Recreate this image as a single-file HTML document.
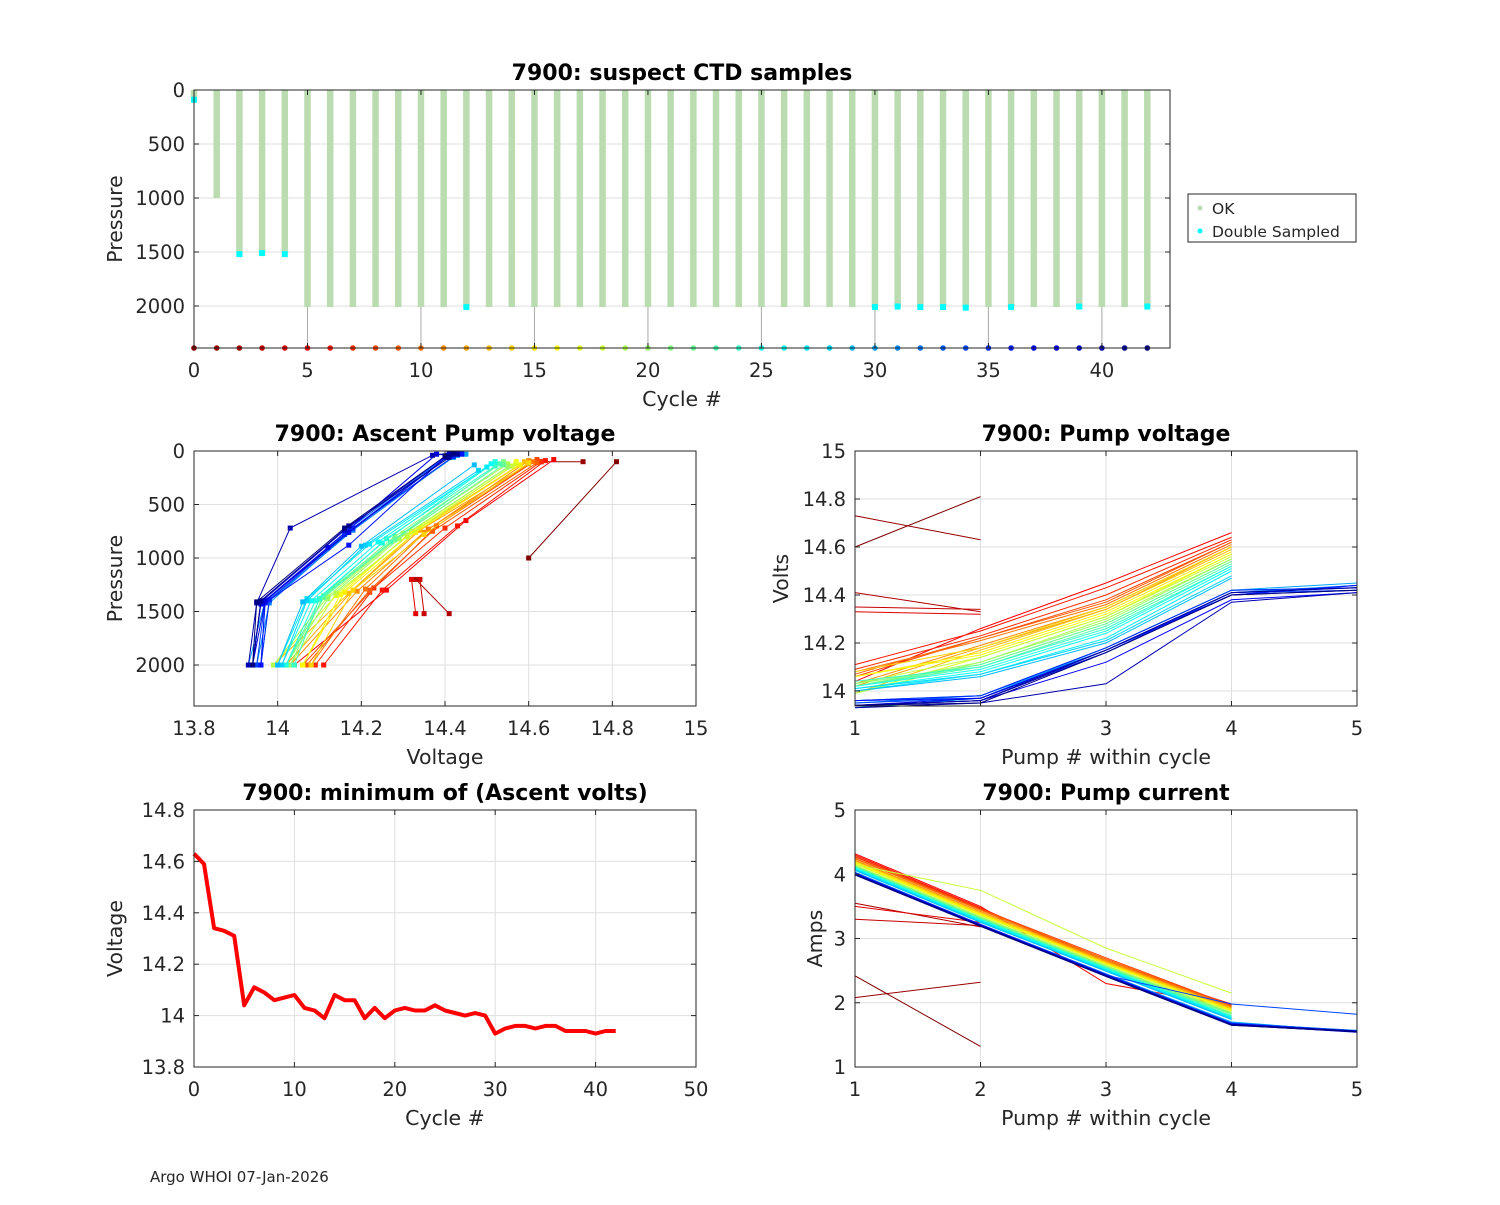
<!DOCTYPE html>
<html><head><meta charset="utf-8"><style>
body{margin:0;background:#fff;}
svg text{font-family:"DejaVu Sans","Liberation Sans",sans-serif;fill:#262626;}
</style></head><body>
<svg id="fig" width="1500" height="1200" xmlns="http://www.w3.org/2000/svg">
<rect width="1500" height="1200" fill="#fff"/>
<text x="150" y="1182" font-size="15">Argo WHOI 07-Jan-2026</text>
</svg>
<script>
const cycles=[0,1,2,3,4,5,6,7,8,9,10,11,12,13,14,15,16,17,18,19,20,21,22,23,24,25,26,27,28,29,30,31,32,33,34,35,36,37,38,39,40,41,42];
const maxPres=[90,1000,1520,1520,1520,2010,2010,2010,2010,2010,2010,2010,2010,2010,2010,2010,2010,2010,2010,2010,2010,2010,2010,2010,2010,2010,2010,2010,2010,2010,2010,2010,2010,2010,2010,2010,2010,2010,2010,2010,2010,2010,2010];
const doubleCycles=[0,2,3,4,12,30,31,32,33,34,36,39,42];
const doublePres=[90,1520,1510,1520,2010,2010,2005,2010,2010,2015,2010,2005,2005];
const minV=[14.63,14.59,14.34,14.33,14.31,14.04,14.11,14.09,14.06,14.07,14.08,14.03,14.02,13.99,14.08,14.06,14.06,13.99,14.03,13.99,14.02,14.03,14.02,14.02,14.04,14.02,14.01,14.00,14.01,14.00,13.93,13.95,13.96,13.96,13.95,13.96,13.96,13.94,13.94,13.94,13.93,13.94,13.94];
const N=null;
const v1=[14.60,14.73,14.41,14.35,14.33,14.04,14.11,14.09,14.06,14.07,14.08,14.03,14.02,13.99,14.08,14.06,14.06,13.99,14.03,13.99,14.02,14.03,14.02,14.02,14.04,14.02,14.01,14.00,14.01,14.00,13.93,13.95,13.96,13.96,13.95,13.96,13.96,13.94,13.94,13.94,13.93,13.94,13.94];
const v2=[14.81,14.63,14.33,14.34,14.32,14.26,14.25,14.23,14.22,14.22,14.21,14.19,14.18,14.17,14.18,14.16,14.15,14.14,14.14,14.12,14.12,14.11,14.11,14.10,14.10,14.09,14.08,14.07,14.07,14.06,13.97,13.98,13.98,13.97,13.97,13.98,13.97,13.96,13.97,13.96,13.95,13.96,13.95];
const v3=[N,N,N,N,N,14.45,14.43,14.40,14.38,14.37,14.36,14.35,14.34,14.34,14.35,14.33,14.32,14.31,14.31,14.30,14.29,14.28,14.28,14.27,14.26,14.25,14.24,14.22,14.21,14.20,14.18,14.17,14.18,14.17,14.16,14.18,14.17,14.12,14.17,14.16,14.03,14.17,14.16];
const v4=[N,N,N,N,N,14.66,14.64,14.63,14.62,14.62,14.61,14.60,14.60,14.59,14.60,14.58,14.57,14.57,14.56,14.55,14.55,14.54,14.54,14.53,14.52,14.52,14.51,14.50,14.48,14.47,14.42,14.41,14.42,14.40,14.41,14.42,14.40,14.38,14.41,14.40,14.37,14.41,14.40];
const v5=[N,N,N,N,N,N,N,N,N,N,N,N,N,N,N,N,N,N,N,N,N,N,N,N,N,N,N,N,N,N,14.45,14.44,14.43,14.44,14.42,14.43,14.44,14.41,14.43,14.42,14.41,14.43,14.42];
const c1=[2.42,2.08,3.55,3.30,3.50,4.32,4.30,4.28,4.27,4.25,4.24,4.22,4.21,4.20,4.20,4.18,4.17,4.16,4.15,4.14,4.13,4.12,4.12,4.11,4.10,4.10,4.09,4.08,4.07,4.06,4.03,4.02,4.03,4.02,4.01,4.02,4.01,4.00,4.01,4.00,3.99,4.00,3.99];
const c2=[1.32,2.32,3.18,3.20,3.25,3.50,3.48,3.47,3.46,3.45,3.44,3.42,3.40,3.39,3.40,3.38,3.37,3.36,3.75,3.34,3.33,3.32,3.31,3.30,3.30,3.29,3.28,3.27,3.26,3.25,3.22,3.21,3.22,3.21,3.20,3.22,3.21,3.20,3.21,3.20,3.19,3.20,3.19];
const c3=[N,N,N,N,N,2.30,2.60,2.65,2.70,2.68,2.66,2.65,2.64,2.63,2.62,2.61,2.60,2.60,2.85,2.58,2.57,2.56,2.55,2.55,2.54,2.53,2.52,2.51,2.50,2.49,2.45,2.44,2.45,2.44,2.43,2.44,2.43,2.42,2.43,2.42,2.41,2.42,2.41];
const c4=[N,N,N,N,N,1.95,1.98,1.97,1.96,1.95,1.94,1.93,1.92,1.91,1.90,1.89,1.88,1.87,2.15,1.85,1.84,1.83,1.82,1.80,1.79,1.78,1.77,1.76,1.75,1.74,1.70,1.69,1.68,1.67,1.98,1.68,1.67,1.66,1.67,1.66,1.65,1.66,1.65];
const c5=[N,N,N,N,N,N,N,N,N,N,N,N,N,N,N,N,N,N,N,N,N,N,N,N,N,N,N,N,N,N,1.55,1.56,1.57,1.55,1.82,1.56,1.55,1.56,1.55,1.54,1.55,1.56,1.55];
const p1=[1000,100,1520,1520,1520,2000,2000,2000,2000,2000,2000,2000,2000,2000,2000,2000,2000,2000,2000,2000,2000,2000,2000,2000,2000,2000,2000,2000,2000,2000,2000,2000,2000,2000,2000,2000,2000,2000,2000,2000,2000,2000,2000];
const p2=[100,100,1200,1200,1200,1300,1300,1280,1320,1300,1290,1310,1300,1330,1300,1320,1340,1350,1330,1360,1380,1350,1370,1390,1380,1400,1400,1380,1400,1410,1400,1420,1400,1410,1400,1390,1420,1430,1400,1410,1420,1400,1410];
const p3=[N,N,N,N,N,650,700,720,700,750,730,760,740,720,780,760,750,790,800,770,820,800,830,850,820,860,850,870,880,890,720,760,740,730,780,720,880,900,760,740,720,700,720];
const p4=[N,N,N,N,N,80,90,100,80,110,100,90,120,100,110,130,100,120,140,120,150,100,130,120,140,100,120,150,180,130,60,40,50,60,40,50,60,30,40,50,40,60,50];
const p5=[N,N,N,N,N,N,N,N,N,N,N,N,N,N,N,N,N,N,N,N,N,N,N,N,N,N,N,N,N,N,30,20,40,20,30,20,30,40,20,30,20,30,20];

const NS="http://www.w3.org/2000/svg";
const fig=document.getElementById('fig');
function el(tag,attrs,parent){const e=document.createElementNS(NS,tag);for(const k in attrs)e.setAttribute(k,attrs[k]);(parent||fig).appendChild(e);return e;}
function jet(t){function c(x){return Math.max(0,Math.min(1,x));}
 const r=c(1.5-Math.abs(4*t-3)),g=c(1.5-Math.abs(4*t-2)),b=c(1.5-Math.abs(4*t-1));
 return `rgb(${Math.round(r*255)},${Math.round(g*255)},${Math.round(b*255)})`;}
function col(i){return jet(1-i/42);}
function axes(name,x0,y0,w,h,xmin,xmax,ymin,ymax,rev,xt,yt,xl,yl,title,ylx){
 const g=el('g',{});
 const X=v=>x0+(v-xmin)/(xmax-xmin)*w;
 const Y=rev?(v=>y0+(v-ymin)/(ymax-ymin)*h):(v=>y0+h-(v-ymin)/(ymax-ymin)*h);
 for(const t of xt){el('line',{x1:X(t),x2:X(t),y1:y0,y2:y0+h,stroke:'#dfdfdf','stroke-width':1},g);}
 for(const t of yt){el('line',{x1:x0,x2:x0+w,y1:Y(t),y2:Y(t),stroke:'#dfdfdf','stroke-width':1},g);}
 const plot=el('g',{},g);
 const front=el('g',{},g);
 el('rect',{x:x0,y:y0,width:w,height:h,fill:'none',stroke:'#262626','stroke-width':1},front);
 for(const t of xt){const x=X(t);el('line',{x1:x,x2:x,y1:y0+h,y2:y0+h-5,stroke:'#262626'},front);el('line',{x1:x,x2:x,y1:y0,y2:y0+5,stroke:'#262626'},front);
  const tx=el('text',{x:x,y:y0+h+29,'font-size':19.5,'text-anchor':'middle'},front);tx.textContent=t;}
 for(const t of yt){const y=Y(t);el('line',{x1:x0,x2:x0+5,y1:y,y2:y,stroke:'#262626'},front);el('line',{x1:x0+w,x2:x0+w-5,y1:y,y2:y,stroke:'#262626'},front);
  const tx=el('text',{x:x0-9,y:y+7,'font-size':19.5,'text-anchor':'end'},front);tx.textContent=t;}
 const xlab=el('text',{x:x0+w/2,y:y0+h+58,'font-size':20.5,'text-anchor':'middle'},front);xlab.textContent=xl;
 
 const ylab=el('text',{x:0,y:0,'font-size':20.5,'text-anchor':'middle',transform:`translate(${ylx},${y0+h/2}) rotate(-90)`},front);ylab.textContent=yl;
 
 const ti=el('text',{x:x0+w/2,y:y0-10,'font-size':22,'font-weight':'bold','text-anchor':'middle',style:'fill:#000'},front);ti.textContent=title;
 
 return {X,Y,plot};
}
function path(pts,attrs,parent){const d=pts.map((p,i)=>(i?'L':'M')+p[0].toFixed(1)+' '+p[1].toFixed(1)).join(' ');return el('path',Object.assign({d:d,fill:'none'},attrs),parent);}

// Top plot
const A=axes('ctd-samples-plot',194,90,976,258,0,43,0,2389,true,[0,5,10,15,20,25,30,35,40],[0,500,1000,1500,2000],'Cycle #','Pressure','7900: suspect CTD samples',122);
for(const t of [5,10,15,20,25,30,35,40]){el('line',{x1:A.X(t),x2:A.X(t),y1:A.Y(2010),y2:348,stroke:'#aaa','stroke-width':1},A.plot);}
cycles.forEach(i=>{const b=el('line',{x1:A.X(i),x2:A.X(i),y1:A.Y(0),y2:A.Y(maxPres[i]),stroke:'#badcb0','stroke-width':6.5},A.plot);
 
 const m=el('circle',{cx:A.X(i),cy:A.Y(2389),r:2.8,fill:col(i)},A.plot);
 });
doubleCycles.forEach((c,k)=>{const m=el('rect',{x:A.X(c)-3,y:A.Y(doublePres[k])-3,width:6,height:6,fill:'#00ffff'},A.plot);
 });
// legend
const lg=el('g',{});
el('rect',{x:1188,y:194,width:168,height:48,fill:'#fff',stroke:'#262626'},lg);
el('circle',{cx:1200,cy:208,r:2.5,fill:'#badcb0'},lg);
el('circle',{cx:1200,cy:231,r:2.5,fill:'#00ffff'},lg);
let t1=el('text',{x:1212,y:214,'font-size':15.5},lg);t1.textContent='OK';
let t2=el('text',{x:1212,y:237,'font-size':15.5},lg);t2.textContent='Double Sampled';

// Ascent pump voltage
const B=axes('ascent-voltage-plot',194,451,502,255,13.8,15,0,2383,true,[13.8,14,14.2,14.4,14.6,14.8,15],[0,500,1000,1500,2000],'Voltage','Pressure','7900: Ascent Pump voltage',122);
const VS=[v1,v2,v3,v4,v5],CS=[c1,c2,c3,c4,c5],PS=[p1,p2,p3,p4,p5];
cycles.forEach(i=>{const pts=[];for(let k=0;k<5;k++){if(VS[k][i]!=null&&PS[k][i]!=null)pts.push([B.X(VS[k][i]),B.Y(PS[k][i])]);}
 const l=path(pts,{stroke:col(i),'stroke-width':1},B.plot);
 pts.forEach(p=>{const m=el('rect',{x:p[0]-2.5,y:p[1]-2.5,width:5,height:5,fill:col(i)},B.plot);});});

// Pump voltage
const C=axes('pump-voltage-plot',855,451,502,255,1,5,13.9375,15,false,[1,2,3,4,5],[14,14.2,14.4,14.6,14.8,15],'Pump # within cycle','Volts',"7900: Pump voltage",788);
cycles.forEach(i=>{const pts=[];for(let k=0;k<5;k++){if(VS[k][i]!=null)pts.push([C.X(k+1),C.Y(VS[k][i])]);}
 const l=path(pts,{stroke:col(i),'stroke-width':1},C.plot);});

// Min voltage
const D=axes('min-voltage-plot',194,810,502,257,0,50,13.8,14.8,false,[0,10,20,30,40,50],[13.8,14,14.2,14.4,14.6,14.8],'Cycle #','Voltage','7900: minimum of (Ascent volts)',122);
const ml=path(cycles.map(i=>[D.X(i),D.Y(minV[i])]),{stroke:'#ff0000','stroke-width':4,'stroke-linejoin':'round'},D.plot);


// Pump current
const E=axes('pump-current-plot',855,810,502,257,1,5,1,5,false,[1,2,3,4,5],[1,2,3,4,5],'Pump # within cycle','Amps','7900: Pump current',822);
cycles.forEach(i=>{const pts=[];for(let k=0;k<5;k++){if(CS[k][i]!=null)pts.push([E.X(k+1),E.Y(CS[k][i])]);}
 const l=path(pts,{stroke:col(i),'stroke-width':1},E.plot);});
</script>
</body></html>
